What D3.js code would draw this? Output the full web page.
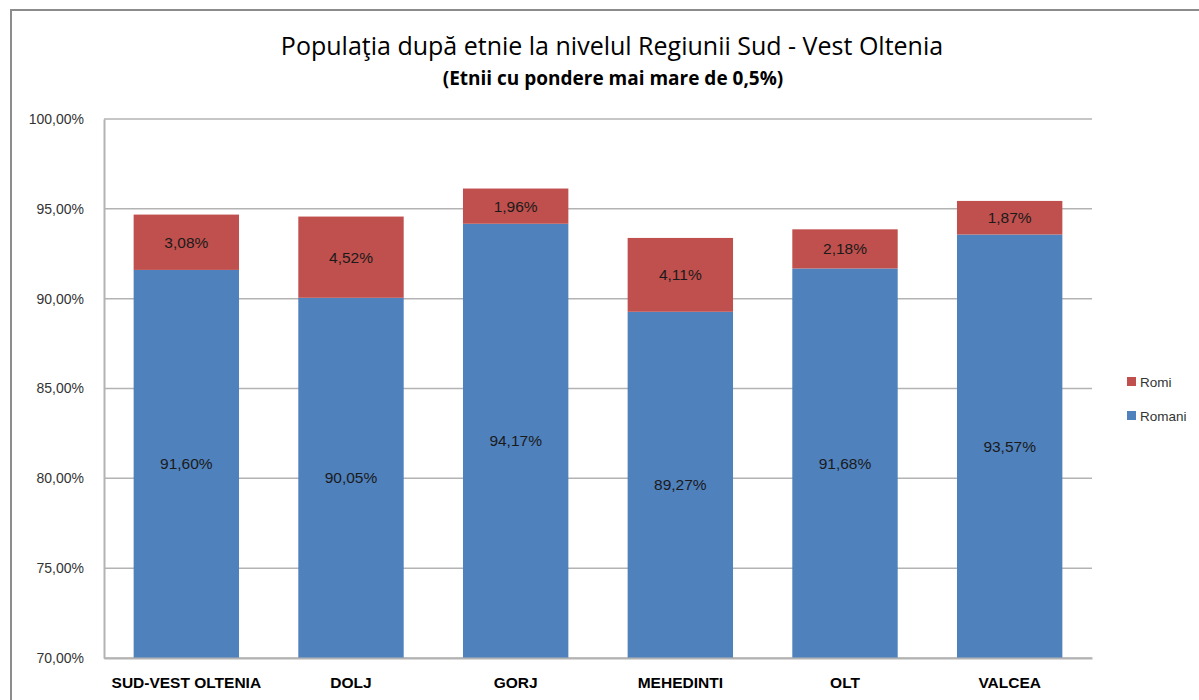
<!DOCTYPE html>
<html>
<head>
<meta charset="utf-8">
<script src="https://cdn.jsdelivr.net/npm/d3@7"></script>
<style>
  body { margin: 0; background: #fff; }
  svg { display: block; font-family: "Liberation Sans", Arial, sans-serif; }
</style>
</head>
<body>
<div id="chart"></div>
<script>
// data
var categories = ["SUD-VEST OLTENIA", "DOLJ", "GORJ", "MEHEDINTI", "OLT", "VALCEA"];
var romani = [91.60, 90.05, 94.17, 89.27, 91.68, 93.57];
var romi = [3.08, 4.52, 1.96, 4.11, 2.18, 1.87];
var yTicks = [70, 75, 80, 85, 90, 95, 100];
var seriesNames = ["Romani", "Romi"];
var colors = { Romani: "#4f81bd", Romi: "#c0504d" };

var W = 1199, H = 700;
var margin = { top: 119, right: 107, bottom: 42, left: 104 };
var width = W - margin.left - margin.right;
var height = H - margin.top - margin.bottom;

var ro = d3.formatLocale({ decimal: ",", thousands: ".", grouping: [3], currency: ["", " lei"] });
var pct = ro.format(".2f");

var rows = categories.map(function (c, i) {
    return { cat: c, Romani: romani[i], Romi: romi[i] };
});

var svg = d3.select("#chart").append("svg")
    .attr("width", W)
    .attr("height", H);

// outer chart frame
svg.append("rect")
    .attr("x", 11)
    .attr("y", 10)
    .attr("width", W + 20)
    .attr("height", H + 20)
    .attr("fill", "none")
    .attr("stroke", "#8c8c8c")
    .attr("stroke-width", 2);

// titles
svg.append("text")
    .attr("x", 612)
    .attr("y", 55)
    .attr("text-anchor", "middle")
    .style("font-family", "'Open Sans', sans-serif")
    .style("font-size", "25px")
    .attr("fill", "#000")
    .text("Populaţia după etnie la nivelul Regiunii Sud - Vest Oltenia");

svg.append("text")
    .attr("x", 613)
    .attr("y", 85)
    .attr("text-anchor", "middle")
    .style("font-family", "'Open Sans', sans-serif")
    .style("font-weight", "bold")
    .style("font-size", "19px")
    .attr("fill", "#000")
    .text("(Etnii cu pondere mai mare de 0,5%)");

var g = svg.append("g")
    .attr("transform", "translate(" + margin.left + "," + margin.top + ")");

var x = d3.scaleBand().domain(categories).range([0, width]).paddingInner(0.36).paddingOuter(0.18);
var y = d3.scaleLinear().domain([70, 100]).range([height, 0]);

// gridlines
g.selectAll(".grid")
    .data(yTicks)
    .enter().append("line")
    .attr("x1", 0)
    .attr("x2", width)
    .attr("y1", function (d) { return y(d); })
    .attr("y2", function (d) { return y(d); })
    .attr("stroke", "#b3b3b3")
    .attr("stroke-width", 1.5);

var stacked = d3.stack().keys(seriesNames)(rows);

var layer = g.selectAll(".layer")
    .data(stacked)
    .enter().append("g")
    .attr("fill", function (d) { return colors[d.key]; });

// axis starts at 70%, so clip the bottom segment there
layer.selectAll("rect")
    .data(function (d) { return d; })
    .enter().append("rect")
    .attr("x", function (d) { return x(d.data.cat); })
    .attr("width", x.bandwidth())
    .attr("y", function (d) { return y(d[1]); })
    .attr("height", function (d) { return y(Math.max(d[0], 70)) - y(d[1]); });

// value labels
stacked.forEach(function (s) {
    g.selectAll(".lbl-" + s.key)
        .data(s)
        .enter().append("text")
        .attr("x", function (d) { return x(d.data.cat) + x.bandwidth() / 2; })
        .attr("y", function (d) { return (y(Math.max(d[0], 70)) + y(d[1])) / 2; })
        .attr("dy", "0.35em")
        .attr("text-anchor", "middle")
        .style("font-size", "15.5px")
        .attr("fill", "#1a1a1a")
        .text(function (d) { return pct(d.data[s.key]) + "%"; });
});

// axes
var yAxis = g.append("g")
    .call(d3.axisLeft(y).tickValues(yTicks).tickSize(0).tickPadding(20)
        .tickFormat(function (d) { return pct(d) + "%"; }));
yAxis.select(".domain").attr("stroke", "#b3b3b3").attr("stroke-width", 2);
yAxis.selectAll("text")
    .style("font-size", "14px")
    .style("font-family", "'Liberation Sans', Arial, sans-serif")
    .attr("fill", "#333");

var xAxis = g.append("g")
    .attr("transform", "translate(0," + height + ")")
    .call(d3.axisBottom(x).tickSize(0).tickPadding(19));
xAxis.select(".domain").attr("stroke", "#b3b3b3").attr("stroke-width", 2);
xAxis.selectAll("text")
    .style("font-size", "15.5px")
    .style("font-weight", "bold")
    .style("font-family", "'Liberation Sans', Arial, sans-serif")
    .attr("fill", "#000");

// legend
var legend = svg.append("g")
    .attr("transform", "translate(1127,377)");

var legendItems = ["Romi", "Romani"];
legend.selectAll("rect")
    .data(legendItems)
    .enter().append("rect")
    .attr("x", 0)
    .attr("y", function (d, i) { return i * 34; })
    .attr("width", 9)
    .attr("height", 9)
    .attr("fill", function (d) { return colors[d]; });

legend.selectAll("text")
    .data(legendItems)
    .enter().append("text")
    .attr("x", 13)
    .attr("y", function (d, i) { return i * 34 + 5; })
    .attr("dy", "0.35em")
    .style("font-size", "13.5px")
    .attr("fill", "#333")
    .text(function (d) { return d; });
</script>
</body>
</html>
